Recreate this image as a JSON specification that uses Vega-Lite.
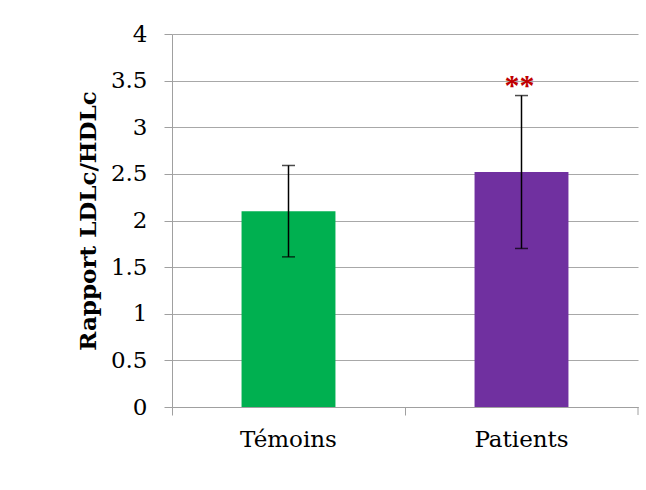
{
  "$schema": "https://vega.github.io/schema/vega-lite/v6.json",
  "autosize": {"type": "none"},
  "padding": {"left": 172, "top": 34, "right": 8, "bottom": 83},
  "width": 466,
  "height": 373,
  "background": "white",
  "config": {
    "view": {"stroke": null},
    "font": "DejaVu Serif"
  },
  "data": {
    "values": [
      {"group": "Témoins", "value": 2.1, "lo": 1.61, "hi": 2.59, "sig": ""},
      {"group": "Patients", "value": 2.52, "lo": 1.7, "hi": 3.34, "sig": "**"}
    ]
  },
  "encoding": {
    "x": {
      "field": "group",
      "type": "nominal",
      "sort": ["Témoins", "Patients"],
      "scale": {"paddingInner": 0, "paddingOuter": 0},
      "axis": {
        "title": null,
        "labelAngle": 0,
        "labelFont": "DejaVu Serif",
        "labelFontSize": 23,
        "labelColor": "black",
        "labelPadding": 13,
        "domainColor": "#A0A0A0",
        "tickColor": "#A0A0A0",
        "tickSize": 8,
        "bandPosition": 0,
        "grid": false
      }
    }
  },
  "layer": [
    {
      "mark": {"type": "bar", "width": {"band": 0.403}},
      "encoding": {
        "y": {
          "field": "value",
          "type": "quantitative",
          "scale": {"domain": [0, 4], "nice": false},
          "axis": {
            "title": "Rapport LDLc/HDLc",
            "titleFont": "DejaVu Serif",
            "titleFontSize": 23,
            "titleFontWeight": "bold",
            "titleColor": "black",
            "titlePadding": 10,
            "values": [0, 0.5, 1, 1.5, 2, 2.5, 3, 3.5, 4],
            "format": "~g",
            "labelFont": "DejaVu Serif",
            "labelFontSize": 23,
            "labelColor": "black",
            "labelPadding": 17,
            "tickSize": 8,
            "tickColor": "#A0A0A0",
            "domainColor": "#A0A0A0",
            "gridColor": "#A8A8A8",
            "gridWidth": 1.2
          }
        },
        "color": {
          "field": "group",
          "type": "nominal",
          "scale": {"domain": ["Témoins", "Patients"], "range": ["#00B050", "#7030A0"]},
          "legend": null
        }
      }
    },
    {
      "mark": {"type": "rule", "color": "black", "strokeWidth": 1.5},
      "encoding": {
        "y": {"field": "lo", "type": "quantitative"},
        "y2": {"field": "hi"}
      }
    },
    {
      "mark": {"type": "tick", "color": "black", "size": 13, "thickness": 1.5},
      "encoding": {"y": {"field": "lo", "type": "quantitative"}}
    },
    {
      "mark": {"type": "tick", "color": "black", "size": 13, "thickness": 1.5},
      "encoding": {"y": {"field": "hi", "type": "quantitative"}}
    },
    {
      "mark": {"type": "text", "color": "#C00000", "fontSize": 30, "fontWeight": "bold", "font": "Liberation Serif", "baseline": "alphabetic", "dy": -1, "dx": -2},
      "encoding": {
        "y": {"field": "hi", "type": "quantitative"},
        "text": {"field": "sig"}
      }
    },
    {
      "data": {"values": [{"group": "Patients", "a": 0, "b": -0.086}]},
      "mark": {"type": "rule", "color": "#A0A0A0", "clip": false},
      "encoding": {
        "x": {"field": "group", "type": "nominal", "bandPosition": 1},
        "y": {"field": "a", "type": "quantitative"},
        "y2": {"field": "b"}
      }
    }
  ]
}
